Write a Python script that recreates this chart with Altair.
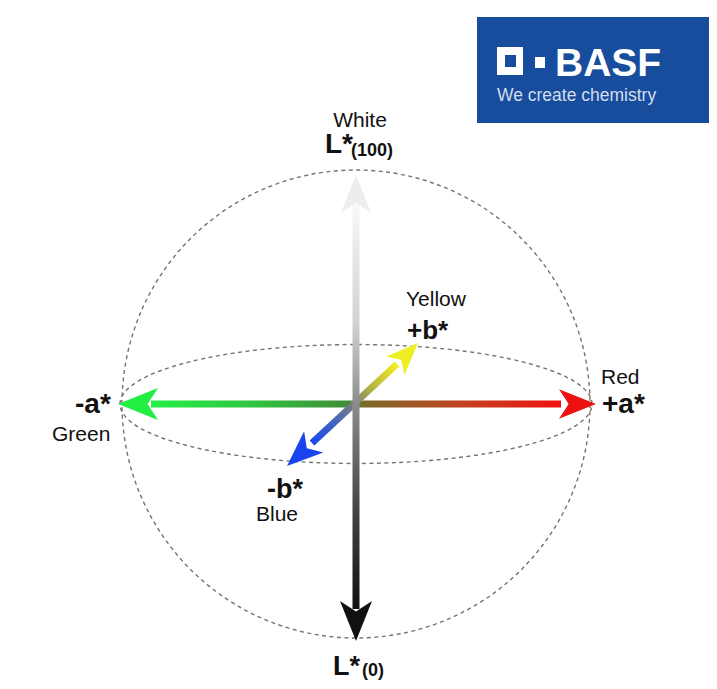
import altair as alt
import pandas as pd

# Diagram coordinates: pixels relative to the sphere centre, y pointing up
X_DOMAIN = [-348, 353]
Y_DOMAIN = [-277, 396]

# dashed sphere outline and equator
sphere_diameter = [468]
equator_width = [472]

# shafts
a_shaft_x = [-205]
a_shaft_x2 = [205]
a_shaft_y = [-3.5]
a_shaft_y2 = [3.5]

L_shaft_x = [-3.5]
L_shaft_x2 = [3.5]
L_shaft_y = [-205]
L_shaft_y2 = [200]

b_shaft_x = [-44, 41]
b_shaft_y = [-39, 40]

# arrow heads (tip positions)
head_name = ["L+", "L-", "a-", "a+", "b+", "b-"]
head_x = [0, 0, -238, 240, 62, -69]
head_y = [229, -237, 0, 0, 61, -62]
head_len = [38, 40, 40, 37, 32, 36]
head_angle = [0, 180, 270, 90, 45, 228]
head_color = ["#ededed", "#111111", "#22ee44", "#ee1111", "#eeee22", "#1a44ee"]

# labels
normal_center_text = ["White", "Yellow", "Black"]
normal_center_x = [4, 80, -1]
normal_center_y = [277, 98, -297]

normal_left_text = ["Red", "Green", "Blue"]
normal_left_x = [245, -304, -100]
normal_left_y = [20, -37, -117]

bold_left_text = ["L*", "+b*", "+a*", "-a*", "-b*", "L*"]
bold_left_x = [-31, 51, 246, -281, -89, -23]
bold_left_y = [251, 65, -9, -9, -94, -271]
bold_left_size = [28, 26, 28, 28, 27, 27]

sub_text = ["(100)", "(0)"]
sub_x = [-5, 6]
sub_y = [248, -272]

# logo
logo_box = {"x": [121], "x2": [361], "y": [281], "y2": [387]}
logo_icon_outer = {"x": [141], "x2": [167], "y": [329], "y2": [357]}
logo_icon_hole = {"x": [149], "x2": [160], "y": [337], "y2": [349]}
logo_dot = {"x": [179], "x2": [189], "y": [336], "y2": [347]}
logo_name = ["BASF"]
logo_name_x = [199]
logo_name_y = [328]
logo_tag = ["We create chemistry"]
logo_tag_x = [141]
logo_tag_y = [303]

FONT = "Liberation Sans"
xs = alt.Scale(domain=X_DOMAIN, nice=False, zero=False)
ys = alt.Scale(domain=Y_DOMAIN, nice=False, zero=False)


def X(f="x"):
    return alt.X(f"{f}:Q", scale=xs, axis=None)


def Y(f="y"):
    return alt.Y(f"{f}:Q", scale=ys, axis=None)


center = pd.DataFrame({"x": [0], "y": [0]})

sphere = alt.Chart(center).mark_point(
    shape="circle", size=sphere_diameter[0] ** 2, filled=False,
    stroke="#737373", strokeWidth=1.4, strokeDash=[4, 3.5], opacity=1
).encode(x=X(), y=Y())

equator = alt.Chart(center).mark_point(
    shape="M -1 0 A 1 0.252 0 1 1 1 0 A 1 0.252 0 1 1 -1 0 Z",
    size=equator_width[0] ** 2, filled=False,
    stroke="#737373", strokeWidth=1.4, strokeDash=[4, 3.5], opacity=1
).encode(x=X(), y=Y())


def grad(stops, x1, y1, x2, y2):
    return alt.Gradient(
        gradient="linear",
        stops=[alt.GradientStop(color=c, offset=o) for o, c in stops],
        x1=x1, y1=y1, x2=x2, y2=y2,
    )


a_grad = grad([(0, "#22f044"), (0.25, "#30c440"), (0.48, "#3e8e36"),
               (0.52, "#7a6a2a"), (0.75, "#c04420"), (1, "#f01212")], 0, 0, 1, 0)
L_grad = grad([(0, "#f8f8f8"), (0.3, "#d0d0d0"), (0.5, "#8a8a8a"),
               (0.75, "#454545"), (1, "#111111")], 0, 0, 0, 1)
b_grad = grad([(0, "#1a46f0"), (0.3, "#4a6ab8"), (0.5, "#7e8070"),
               (0.7, "#b4b440"), (1, "#f2f224")], 0, 1, 1, 0)

a_shaft = alt.Chart(pd.DataFrame({"x": a_shaft_x, "x2": a_shaft_x2,
                                  "y": a_shaft_y, "y2": a_shaft_y2})).mark_rect(
    fill=a_grad, strokeWidth=0
).encode(x=X(), x2="x2:Q", y=Y(), y2="y2:Q")

L_shaft = alt.Chart(pd.DataFrame({"x": L_shaft_x, "x2": L_shaft_x2,
                                  "y": L_shaft_y, "y2": L_shaft_y2})).mark_rect(
    fill=L_grad, strokeWidth=0
).encode(x=X(), x2="x2:Q", y=Y(), y2="y2:Q")

b_shaft = alt.Chart(pd.DataFrame({"x": b_shaft_x, "y": b_shaft_y,
                                  "o": [0, 1]})).mark_line(
    stroke=b_grad, strokeWidth=7, strokeCap="butt"
).encode(x=X(), y=Y(), order="o:Q")

heads_df = pd.DataFrame({
    "name": head_name, "x": head_x, "y": head_y,
    "size": [(2 * l) ** 2 for l in head_len],
    "angle": head_angle, "color": head_color,
})
heads = alt.Chart(heads_df).mark_point(
    shape="M 0 0 L 0.4 1 L 0 0.74 L -0.4 1 Z", filled=True, opacity=1, strokeWidth=0
).encode(
    x=X(), y=Y(),
    size=alt.Size("size:Q", scale=None),
    angle=alt.Angle("angle:Q", scale=None),
    fill=alt.Fill("color:N", scale=None),
)


def text_layer(texts, x, y, size, weight, align, color="#111111"):
    df = pd.DataFrame({"t": texts, "x": x, "y": y,
                       "s": size if isinstance(size, list) else [size] * len(texts)})
    return alt.Chart(df).mark_text(
        font=FONT, fontWeight=weight, align=align, baseline="alphabetic",
        color=color
    ).encode(x=X(), y=Y(), text="t:N", size=alt.Size("s:Q", scale=None))


labels = [
    text_layer(normal_center_text, normal_center_x, normal_center_y, 21, "normal", "center"),
    text_layer(normal_left_text, normal_left_x, normal_left_y, 21, "normal", "left"),
    text_layer(bold_left_text, bold_left_x, bold_left_y, bold_left_size, "bold", "left"),
    text_layer(sub_text, sub_x, sub_y, 18, "bold", "left"),
]


def box(d, color):
    return alt.Chart(pd.DataFrame(d)).mark_rect(fill=color, strokeWidth=0).encode(
        x=X(), x2="x2:Q", y=Y(), y2="y2:Q")


logo = [
    box(logo_box, "#174d9c"),
    box(logo_icon_outer, "#ffffff"),
    box(logo_icon_hole, "#174d9c"),
    box(logo_dot, "#ffffff"),
    text_layer(logo_name, logo_name_x, logo_name_y, 39, "bold", "left", color="#ffffff"),
    text_layer(logo_tag, logo_tag_x, logo_tag_y, 17.5, "normal", "left", color="#d2ddef"),
]

chart = alt.layer(
    sphere, equator, a_shaft, b_shaft, L_shaft, heads, *labels, *logo
).properties(
    width=701, height=673, padding=0, autosize=alt.AutoSizeParams(type="none"),
    background="#ffffff",
).configure_view(stroke=None)

chart.save("out.html", embed_options={"renderer": "svg", "actions": False})
